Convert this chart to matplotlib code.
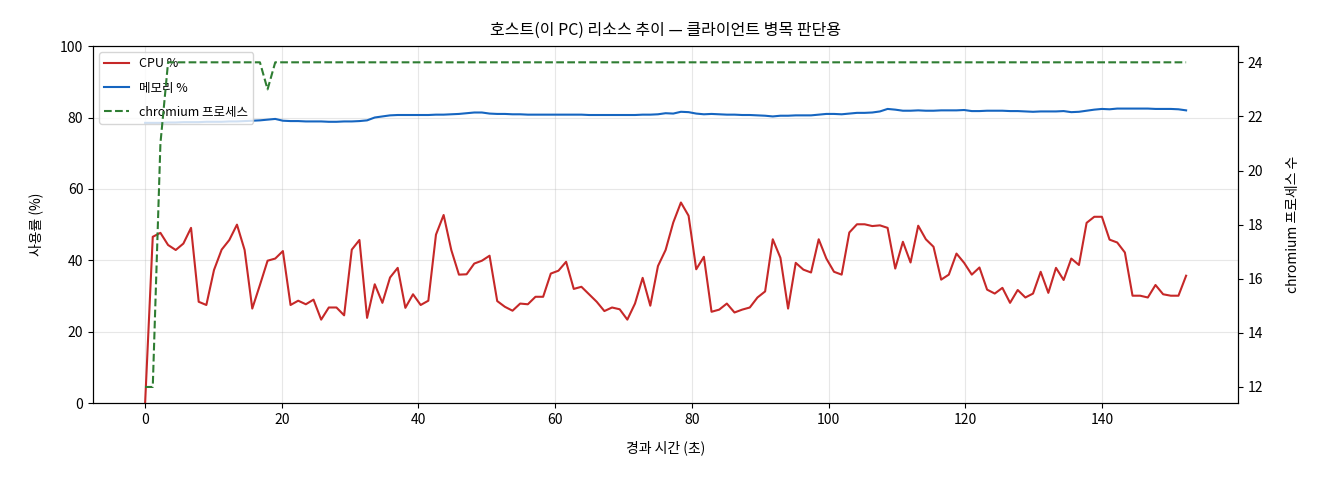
import numpy as np
import matplotlib.pyplot as plt

plt.rcParams['font.family'] = ['Noto Sans CJK KR', 'DejaVu Sans']
plt.rcParams['axes.unicode_minus'] = False

# 샘플 간격 (초)
sample_sec = 1.12

cpu = [0, 46.6, 47.7, 44.3, 42.9, 44.7, 49.1, 28.4, 27.5, 37.3, 43.0, 45.7, 50.0, 42.9,
       26.5, 33.1, 39.9, 40.5, 42.6, 27.5, 28.7, 27.7, 29.0, 23.4, 26.8,
       26.8, 24.6, 43.0, 45.7, 23.9, 33.3, 28.1, 35.2, 37.9, 26.7, 30.5, 27.5, 28.7,
       47.2, 52.7, 42.9, 36.0, 36.1, 39.1, 39.9, 41.3, 28.6, 27.0, 25.9,
       27.9, 27.7, 29.8, 29.8, 36.3, 37.1, 39.6, 32.0, 32.6, 30.5, 28.4, 25.8, 26.8,
       26.3, 23.4, 27.9, 35.1, 27.3, 38.4, 42.9, 50.6, 56.2, 52.5, 37.5,
       41.0, 25.6, 26.2, 27.9, 25.4, 26.2, 26.8, 29.6, 31.3, 45.9, 40.7, 26.5, 39.3,
       37.4, 36.6, 45.9, 40.5, 36.8, 36.0, 47.8, 50.1, 50.1, 49.6, 49.8,
       49.1, 37.7, 45.2, 39.4, 49.7, 45.9, 43.8, 34.6, 36.0, 41.9, 39.3, 36.0, 38.0,
       31.8, 30.7, 32.3, 28.1, 31.7, 29.6, 30.7, 36.8, 30.9, 37.9, 34.5,
       40.5, 38.7, 50.5, 52.2, 52.2, 45.8, 45.0, 42.2, 30.1, 30.1, 29.6, 33.1, 30.5,
       30.1, 30.1, 35.7]

mem = [78.5, 78.5, 78.5, 78.6, 78.6, 78.7, 78.7, 78.7, 78.8, 78.8, 78.8, 78.9, 78.9,
       79.0, 79.1, 79.2, 79.4, 79.6, 79.1, 79.0, 79.0, 78.9, 78.9, 78.9, 78.8, 78.8,
       78.9, 78.9, 79.0, 79.2, 80.0, 80.3, 80.6, 80.7, 80.7, 80.7, 80.7, 80.7, 80.8,
       80.8, 80.9, 81.0, 81.2, 81.4, 81.4, 81.1, 81.0, 81.0, 80.9, 80.9, 80.8, 80.8,
       80.8, 80.8, 80.8, 80.8, 80.8, 80.8, 80.7, 80.7, 80.7, 80.7, 80.7, 80.7, 80.7,
       80.8, 80.8, 80.9, 81.2, 81.1, 81.6, 81.5, 81.1, 80.9, 81.0, 80.9, 80.8, 80.8,
       80.7, 80.7, 80.6, 80.5, 80.3, 80.5, 80.5, 80.6, 80.6, 80.6, 80.8, 81.0, 81.0,
       80.9, 81.1, 81.3, 81.3, 81.4, 81.7, 82.4, 82.2, 81.9, 81.9, 82.0, 81.9, 81.9,
       82.0, 82.0, 82.0, 82.1, 81.8, 81.8, 81.9, 81.9, 81.9, 81.8, 81.8, 81.7, 81.6,
       81.7, 81.7, 81.7, 81.8, 81.5, 81.6, 81.9, 82.2, 82.4, 82.3, 82.5, 82.5, 82.5,
       82.5, 82.5, 82.4, 82.4, 82.4, 82.3, 82.0]

chromium = [12, 12, 21] + [24] * 13 + [23] + [24] * 120

elapsed = np.arange(len(cpu)) * sample_sec

fig, ax = plt.subplots(figsize=(13.2, 4.8), dpi=100)
fig.subplots_adjust(left=0.0705, right=0.938, top=0.904, bottom=0.16)

l1, = ax.plot(elapsed, cpu, color='#c62828', lw=1.5, label='CPU %')
l2, = ax.plot(elapsed, mem, color='#1565c0', lw=1.5, label='메모리 %')
ax.set_ylim(0, 100)
ax.set_xlabel('경과 시간 (초)', fontsize=10, labelpad=10)
ax.set_ylabel('사용률 (%)', fontsize=10, labelpad=12)
ax.grid(True, alpha=0.3)
ax.tick_params(labelsize=10)

ax2 = ax.twinx()
l3, = ax2.plot(elapsed, chromium, color='#2e7d32', lw=1.5, ls='--', label='chromium 프로세스')
ax2.set_ylabel('chromium 프로세스 수', fontsize=10, labelpad=16)
ax2.tick_params(labelsize=10)

ax.legend(handles=[l1, l2, l3], loc='upper left', fontsize=9, labelspacing=0.9)
ax.set_title('호스트(이 PC) 리소스 추이 — 클라이언트 병목 판단용', fontsize=11.5, pad=8)

plt.savefig('out.png', dpi=100)
